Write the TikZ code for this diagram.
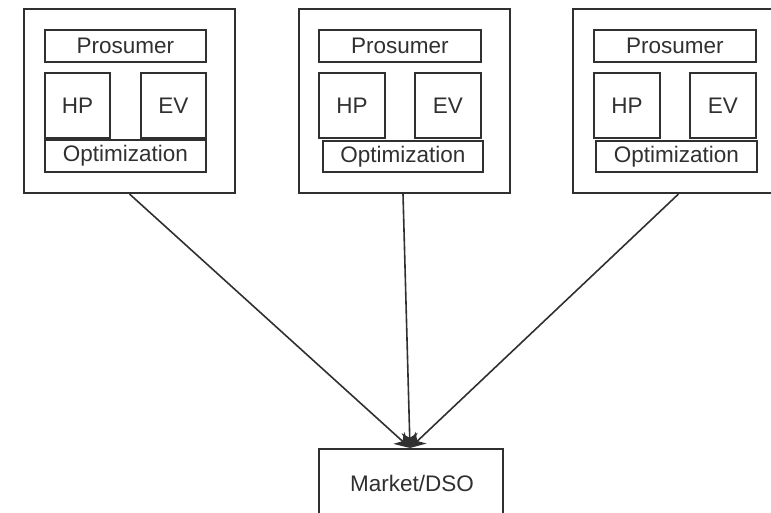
\documentclass[tikz,border=0pt]{standalone}
\usepackage{fontspec}
\setmainfont{Liberation Sans}
\usetikzlibrary{arrows.meta}
\definecolor{ink}{HTML}{303030}
\begin{document}
\begin{tikzpicture}[x=1pt,y=-1pt,
  outerbox/.style={draw=ink,line width=2pt,rectangle,anchor=north west,inner sep=0pt},
  innerbox/.style={draw=ink,line width=1.8pt,rectangle,anchor=north west,inner sep=0pt,
    font=\fontsize{22.5}{24}\selectfont,text=ink},
  conn/.style={draw=ink,line width=1.6pt,-{Stealth[length=15pt,width=16pt]}}]
\useasboundingbox (0,0) rectangle (771,513);
\clip (0,0) rectangle (771,513);
% outer boxes
\node[outerbox,minimum width=211pt,minimum height=184pt] (b1) at (23,8) {};
\node[outerbox,minimum width=211pt,minimum height=184pt] (b2) at (298,8) {};
\node[outerbox,minimum width=211pt,minimum height=184pt] (b3) at (572,8) {};
% box 1
\node[innerbox,minimum width=161pt,minimum height=32pt] (p1) at (44,29) {Prosumer};
\node[innerbox,minimum width=65pt,minimum height=65pt] (h1) at (44,72) {HP};
\node[innerbox,minimum width=65pt,minimum height=65pt] (e1) at (140,72) {EV};
\node[innerbox,minimum width=161pt,minimum height=32pt] (o1) at (44,139) {Optimization};
% box 2
\node[innerbox,minimum width=162pt,minimum height=32pt] (p2) at (318,29) {Prosumer};
\node[innerbox,minimum width=66pt,minimum height=65pt] (h2) at (318,72) {HP};
\node[innerbox,minimum width=66pt,minimum height=65pt] (e2) at (414,72) {EV};
\node[innerbox,minimum width=160pt,minimum height=31pt] (o2) at (322,140) {Optimization};
% box 3
\node[innerbox,minimum width=162pt,minimum height=32pt] (p3) at (593,29) {Prosumer};
\node[innerbox,minimum width=66pt,minimum height=65pt] (h3) at (593,72) {HP};
\node[innerbox,minimum width=66pt,minimum height=65pt] (e3) at (689,72) {EV};
\node[innerbox,minimum width=161pt,minimum height=31pt] (o3) at (595,140) {Optimization};
% market
\node[outerbox,minimum width=184pt,minimum height=100pt] (m) at (318,448) {};
\node[font=\fontsize{22.5}{24}\selectfont,text=ink] (mt) at (412,483) {Market/DSO};
% connectors
\draw[conn] (b1.south) -- ([xshift=-1pt]m.north);
\draw[conn] ([xshift=-1.5pt]b2.south) -- ([xshift=-1pt]m.north);
\draw[conn] (b3.south) -- ([xshift=-1pt]m.north);
\end{tikzpicture}
\end{document}
